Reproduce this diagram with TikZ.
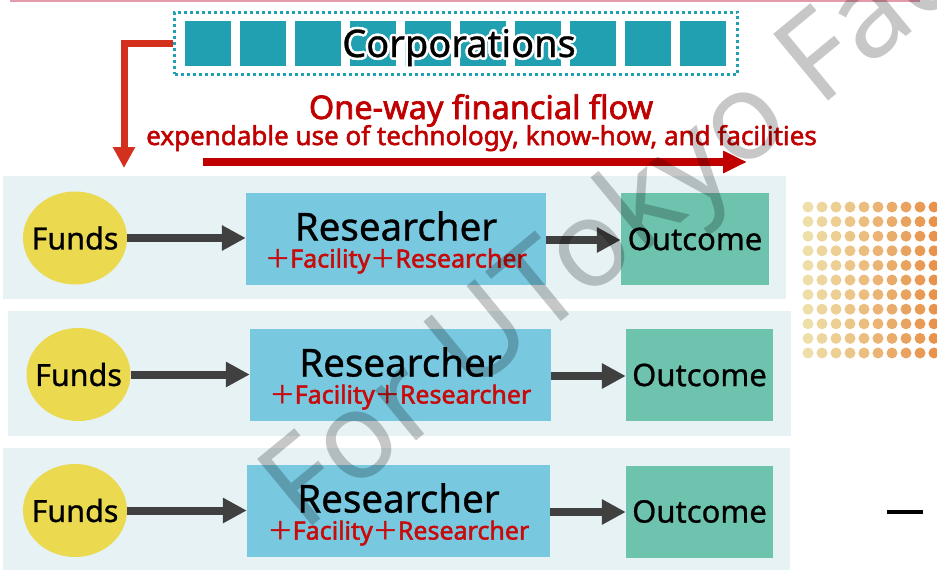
\documentclass[tikz,border=0pt]{standalone}
\usepackage{fontspec}
\setmainfont{Noto Sans}[FakeBold=0.8]
\newfontfamily\heavyfont{Noto Sans}[FakeBold=2]
\newfontfamily\cjk{Noto Sans CJK JP}[FakeBold=2]
\usetikzlibrary{shapes.geometric,arrows.meta}
\definecolor{panelblue}{HTML}{E6F2F4}
\definecolor{fundyellow}{HTML}{EBD950}
\definecolor{resblue}{HTML}{78C8E0}
\definecolor{outgreen}{HTML}{6EC3AE}
\definecolor{arrowgray}{HTML}{404040}
\definecolor{subred}{HTML}{C80A0A}
\definecolor{flowred}{HTML}{C00000}
\definecolor{dropred}{HTML}{D3301E}
\definecolor{corpteal}{HTML}{20A0B0}
\definecolor{topline}{HTML}{E39AAB}
\definecolor{dotbeige}{HTML}{EEDFA8}
\definecolor{dotorange}{HTML}{E8914A}
\newcommand{\plusmark}{{\cjk ＋}}

\begin{document}
\begin{tikzpicture}[x=1pt,y=-1pt,inner sep=0pt,
  panel/.style={fill=panelblue},
  fundsnode/.style={ellipse,fill=fundyellow,minimum width=104pt,minimum height=93pt,font=\fontsize{30.5}{30}\bfseries\selectfont},
  resbox/.style={fill=resblue,minimum height=92pt,align=center,font=\fontsize{38.5}{27}\selectfont},
  outbox/.style={fill=outgreen,minimum width=148pt,minimum height=92pt,font=\fontsize{31}{30}\selectfont},
  grayarrow/.style={draw=arrowgray,line width=8pt,-{Triangle[width=24pt,length=24pt]}},
  corpbox/.style={draw=corpteal,line width=3pt,dash pattern=on 3pt off 3pt,minimum width=563pt,minimum height=62pt},
  watermark/.style={anchor=base west,rotate=39.5,text=black,text opacity=0.22,font=\fontsize{121}{121}\selectfont}]
\useasboundingbox (0,0) rectangle (937,570);
\draw[topline,line width=2pt] (10,1) -- (920,1);

% corporations
\node[corpbox] (corp) at (456,43) {};
\foreach \i in {0,...,9}
  \fill[corpteal] (185+55*\i,21) rectangle (231+55*\i,66);
\foreach \a in {0,30,...,330}
  \node[anchor=base,text=white,font=\fontsize{38}{38}\selectfont] (halo\a) at ([shift={(\a:2.6)}]459,57) {Corporations};
\node[anchor=base,font=\fontsize{38}{38}\selectfont] (corptext) at (459,57) {Corporations};

\coordinate (drop) at (124,168);
\draw[dropred,line width=7pt,line join=miter,-{Triangle[width=21pt,length=21pt]}] (corp.west) -| (drop);

\node[anchor=base,text=flowred,font=\heavyfont\fontsize{32.5}{30}\selectfont] (flowtitle) at (481,119) {One-way financial flow};
\node[anchor=base,text=flowred,font=\heavyfont\fontsize{26}{24}\selectfont] (flowsub) at (481.5,145) {expendable use of technology, know-how, and facilities};
\coordinate (flowstart) at (203,162);
\coordinate (flowend) at (747,162);
\draw[flowred,line width=8pt,-{Triangle[width=21pt,length=24pt]}] (flowstart) -- (flowend);

% rows
\fill[panel] (3,176) rectangle (786,299);
\fill[panel] (8,311) rectangle (791,436);
\fill[panel] (3,448) rectangle (790,570);

\node[fundsnode] (f1) at (75,238) {\makebox[0pt]{Funds}};
\node[resbox,minimum width=300pt] (r1) at (396,239) {\rule{0pt}{36pt}Researcher\\{\color{subred}\heavyfont\fontsize{25}{25}\selectfont\plusmark Facility\plusmark Researcher}};
\node[outbox] (o1) at (695,239) {Outcome};
\path[grayarrow] (f1.east) -- (f1.east -| r1.west);
\path[grayarrow] (r1.east |- 0,240) -- (o1.west |- 0,240);

\node[fundsnode] (f2) at (78.5,374.5) {\makebox[0pt]{Funds}};
\node[resbox,minimum width=301pt] (r2) at (400.5,375) {\rule{0pt}{36pt}Researcher\\{\color{subred}\heavyfont\fontsize{25}{25}\selectfont\plusmark Facility\plusmark Researcher}};
\node[outbox,minimum width=147pt] (o2) at (699.5,375) {Outcome};
\path[grayarrow] (f2.east) -- (f2.east -| r2.west);
\path[grayarrow] (r2.east |- 0,376) -- (o2.west |- 0,376);

\node[fundsnode] (f3) at (75,510.5) {\makebox[0pt]{Funds}};
\node[resbox,minimum width=303pt] (r3) at (398.5,511) {\rule{0pt}{36pt}Researcher\\{\color{subred}\heavyfont\fontsize{25}{25}\selectfont\plusmark Facility\plusmark Researcher}};
\node[outbox,minimum width=147pt] (o3) at (699.5,511.5) {Outcome};
\path[grayarrow] (f3.east) -- (f3.east -| r3.west);
\path[grayarrow] (r3.east |- 0,512) -- (o3.west |- 0,512);

% dots on the right
\foreach \i in {0,...,9}{
  \pgfmathsetmacro\p{\i*11}
  \foreach \j in {0,...,10}
    \fill[dotorange!\p!dotbeige] (808+14*\i,207+14.6*\j) circle (5.5);
}
\draw[line width=4pt] (887,512) -- (923,512);

\node[watermark] (wm) at (303,534) {\fontspec{Noto Sans}For UTokyo Faculty};
\end{tikzpicture}
\end{document}
